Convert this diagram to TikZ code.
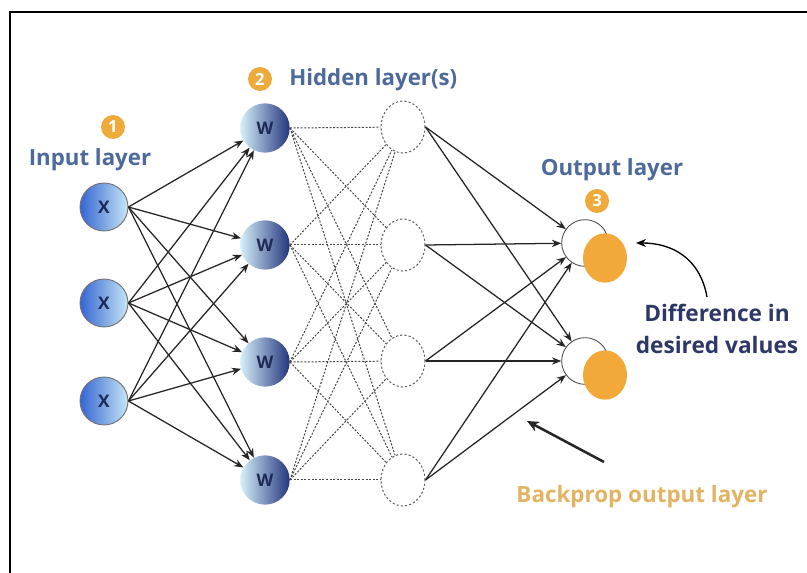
\documentclass[tikz,border=0pt]{standalone}
\usepackage{fontspec}
\setmainfont{Open Sans}
\usetikzlibrary{arrows.meta,shapes.geometric}

\definecolor{lblblue}{HTML}{4D6A9A}
\definecolor{navy}{HTML}{2E3868}
\definecolor{bptan}{HTML}{E2B462}
\definecolor{badgeor}{HTML}{EFAA3C}
\definecolor{outor}{HTML}{F2A93A}
\definecolor{xdark}{HTML}{3565D2}
\definecolor{xlight}{HTML}{C6E6F6}
\definecolor{wlight}{HTML}{D6EFFA}
\definecolor{wdark}{HTML}{23357C}
\definecolor{letter}{HTML}{1E2A55}

\tikzset{
  inpnode/.style={circle, minimum size=36pt, inner sep=0pt, draw=black!55, line width=0.7pt,
    left color=xdark, right color=xlight, font=\bfseries\fontsize{13}{13}\selectfont, text=letter},
  wnode/.style={circle, minimum size=37pt, inner sep=0pt,
    left color=wlight, right color=wdark, font=\bfseries\fontsize{13}{13}\selectfont, text=letter},
  hidnode/.style={ellipse, minimum width=33pt, minimum height=39pt, inner sep=0pt,
    draw=black!60, line width=0.8pt, dash pattern=on 1.6pt off 1.6pt},
  outring/.style={circle, minimum size=35pt, inner sep=0pt, draw=black!75, line width=0.6pt, fill=white},
  outfill/.style={ellipse, minimum width=33pt, minimum height=37pt, inner sep=0pt, fill=outor},
  badge/.style={circle, fill=badgeor, minimum size=18pt, inner sep=0pt, text=white,
    font=\bfseries\fontsize{12.5}{12.5}\selectfont},
  lbl/.style={text=lblblue, font=\bfseries\fontsize{16.7}{16.7}\selectfont, inner sep=0pt},
  fwd/.style={-{Stealth[length=7pt,width=5.5pt]}, line width=0.95pt, draw=black!85},
  wdash/.style={line width=0.75pt, draw=black!72, dash pattern=on 1.5pt off 1.2pt},
}

\begin{document}
\begin{tikzpicture}[x=0.75pt,y=-0.75pt]
  % canvas and frame
  \useasboundingbox (0,0) rectangle (807,573);
  \fill[white] (0,0) rectangle (807,573);
  \draw[line width=2.2pt] (807,12) -- (10,12) -- (10,573);

  % input layer
  \node[inpnode] (x1) at (104,207) {X};
  \node[inpnode] (x2) at (104,303) {X};
  \node[inpnode] (x3) at (104,401) {X};

  % first hidden layer (weights)
  \node[wnode] (w1) at (265,128) {W};
  \node[wnode] (w2) at (265,245) {W};
  \node[wnode] (w3) at (265,362) {W};
  \node[wnode] (w4) at (265,480) {W};

  % second hidden layer
  \node[hidnode] (h1) at (403,127) {};
  \node[hidnode] (h2) at (403,245) {};
  \node[hidnode] (h3) at (403,361) {};
  \node[hidnode] (h4) at (403,480) {};

  % inputs to weights
  \foreach \i in {1,2,3}
    \foreach \j in {1,2,3,4}
      \draw[fwd] (x\i.east) -- (w\j);

  % weights to hidden units
  \foreach \i in {1,2,3,4}
    \foreach \j in {1,2,3,4}
      \draw[wdash] (w\i.east) -- (h\j);

  % output layer
  \node[outring] (o1) at (585,243) {};
  \node[outring] (o2) at (585,361) {};

  \foreach \i in {1,2,3,4}
    \foreach \j in {1,2}
      \draw[fwd] (h\i.east) -- (o\j);

  \node[outfill] (f1) at (605,258) {};
  \node[outfill] (f2) at (605,375) {};

  % labels and badges
  \node[badge] (b1) at (113,127) {1};
  \node[lbl] (inlbl) at (90,160) {Input layer};
  \node[badge] (b2) at (260,79) {2};
  \node[lbl, anchor=west] (hidlbl) at (289,80) {Hidden layer(s)};
  \node[lbl] (outlbl) at (612,170) {Output layer};
  \node[badge] (b3) at (597,201) {3};

  \node[text=navy, font=\bfseries\fontsize{17}{24}\selectfont, align=center, inner sep=0pt]
    (diff) at (717,329) {Difference in\\desired values};
  \node[text=bptan, font=\bfseries\fontsize{16.8}{16.8}\selectfont, inner sep=0pt]
    (bp) at (642,497) {Backprop output layer};

  % error feedback arrow into the first output
  \coordinate (dtail) at (707,297);
  \coordinate (dtip) at (636,243);
  \draw[-{Stealth[length=7.5pt,width=6pt]}, line width=1pt]
    (dtail) .. controls (700,258) and (672,243) .. (dtip);

  % backprop arrow
  \coordinate (bptail) at (604,462);
  \coordinate (bphead) at (527,421);
  \draw[-{Stealth[length=9pt,width=8pt]}, line width=1.9pt, draw=black!85] (bptail) -- (bphead);
\end{tikzpicture}
\end{document}
